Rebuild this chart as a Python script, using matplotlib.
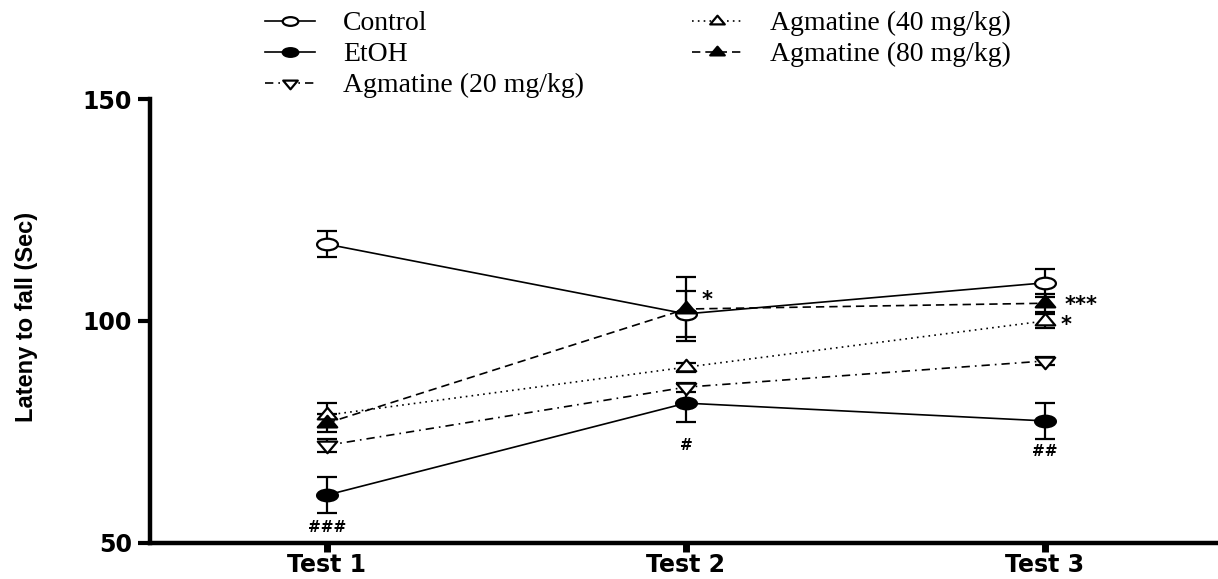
import matplotlib
matplotlib.use('Agg')
import matplotlib.pyplot as plt
from matplotlib.path import Path
from matplotlib.transforms import Affine2D

# data
tests = ['Test 1', 'Test 2', 'Test 3']
x = [1, 2, 3]

control = [117.3, 101.6, 108.6]
control_err = [2.9, 5.1, 3.2]
etoh = [60.8, 81.5, 77.5]
etoh_err = [4.0, 4.3, 4.0]
agm20 = [72.0, 85.1, 91.0]
agm20_err = [1.5, 1.0, 1.0]
agm40 = [78.8, 89.6, 100.0]
agm40_err = [2.7, 1.0, 1.5]
agm80 = [77.0, 102.7, 104.0]
agm80_err = [2.0, 7.2, 2.0]

# significance marks: (x, y, text)
marks_hash = [(1, 53.5, '###'), (2, 72.0, '#'), (3, 70.6, '##')]
marks_star = [(2.06, 104.8, '*'), (3.10, 103.6, '***'), (3.06, 99.0, '*')]

# stretched markers (the original picture is wider than tall)
ellipse = Affine2D().scale(1.8, 1).transform_path(Path.unit_circle())
tri_up = Affine2D().scale(1.45, 1).transform_path(Path.unit_regular_polygon(3))
tri_dn = Affine2D().scale(1.45, -1).transform_path(Path.unit_regular_polygon(3))

fig = plt.figure(figsize=(12.18, 5.79), dpi=100)
ax = fig.add_axes([150/1218, 36/579, 1068/1218, 444/579])

series = [
    ('Control', control, control_err, ellipse, 'white', '-', 15),
    ('EtOH', etoh, etoh_err, ellipse, 'black', '-', 15),
    ('Agmatine (20 mg/kg)', agm20, agm20_err, tri_dn, 'white', (0, (5, 3, 1, 3)), 14),
    ('Agmatine (40 mg/kg)', agm40, agm40_err, tri_up, 'white', (0, (1, 2.5)), 14),
    ('Agmatine (80 mg/kg)', agm80, agm80_err, tri_up, 'black', (0, (5, 3)), 14),
]

handles = []
for label, vals, err, mk, fc, ls, ms in series:
    ax.errorbar(x, vals, yerr=err, fmt='none', ecolor='black', elinewidth=1.6,
                capsize=7, capthick=1.6, zorder=2)
    h, = ax.plot(x, vals, color='black', linestyle=ls, linewidth=1.2,
                 marker=mk, markersize=ms, markerfacecolor=fc,
                 markeredgecolor='black', markeredgewidth=1.6, label=label, zorder=3)
    handles.append(h)

for xx, yy, t in marks_hash:
    ax.text(xx, yy, t, ha='center', va='center', fontsize=11,
            fontweight='bold', family='DejaVu Sans')
for xx, yy, t in marks_star:
    ax.text(xx, yy, t, ha='center', va='center', fontsize=15,
            fontweight='bold', family='DejaVu Sans')

ax.set_xlim(0.507, 3.482)
ax.set_ylim(50, 150)
ax.set_yticks([50, 100, 150])
ax.set_xticks(x)
ax.set_xticklabels(tests)

for s in ['top', 'right']:
    ax.spines[s].set_visible(False)
for s in ['left', 'bottom']:
    ax.spines[s].set_linewidth(3.2)

ax.tick_params(axis='y', length=9, width=3, pad=4, labelsize=17)
ax.tick_params(axis='x', length=6.5, width=5, pad=1, labelsize=17)
for lab in ax.get_xticklabels() + ax.get_yticklabels():
    lab.set_fontweight('bold')
    lab.set_family('DejaVu Sans')

fig.text(27/1218, 1 - 317/579, 'Lateny to fall (Sec)', rotation=90,
         ha='center', va='center', fontsize=17, fontweight='bold',
         family='Liberation Sans')

fig.legend(handles=handles, loc='upper left', bbox_to_anchor=(265/1218, 1 - 11/579),
           ncol=2, frameon=False, prop={'family': 'Liberation Serif', 'size': 20},
           handlelength=1.8, handletextpad=1.0, columnspacing=3.9,
           labelspacing=0.2, borderpad=0, borderaxespad=0, markerscale=0.75)

fig.savefig('out.png', dpi=100)
